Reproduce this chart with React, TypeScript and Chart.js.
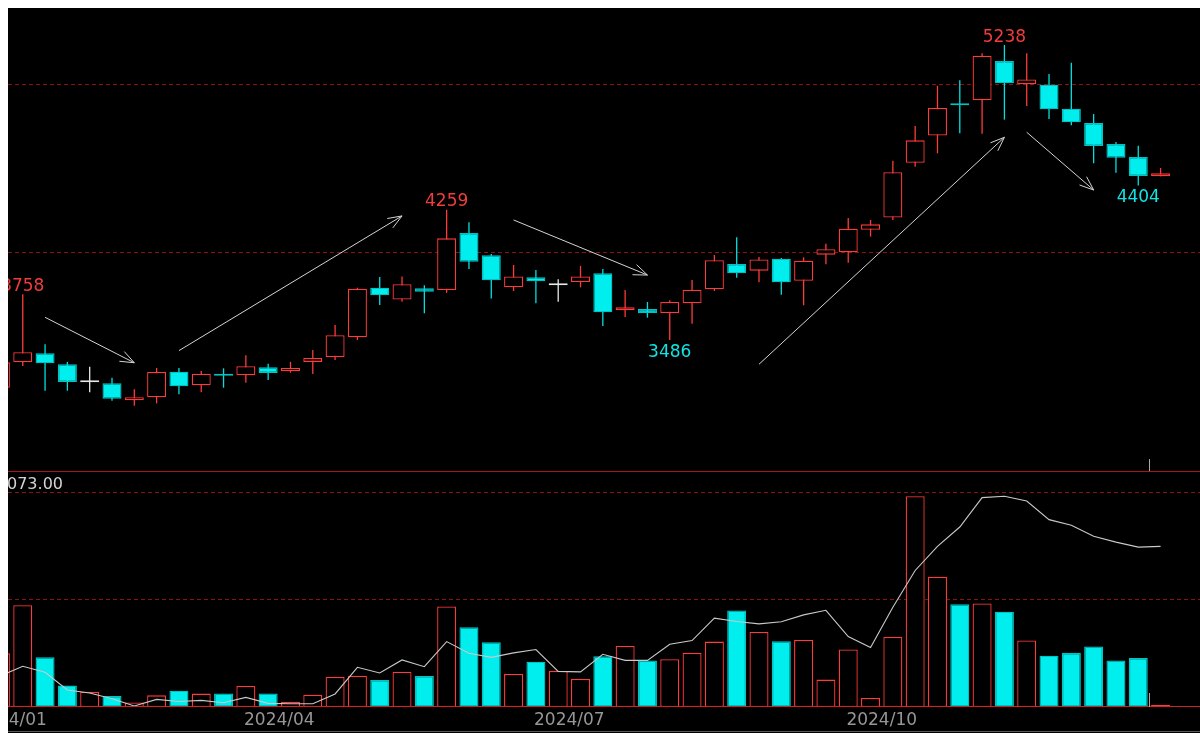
import React, { useEffect, useRef } from 'react';
import { Chart, registerables } from 'chart.js';

Chart.register(...registerables);

// ---------- data (weekly candles) ----------
const opens = [
  3203, 3354, 3407, 3342, 3235, 3229, 3128, 3146, 3298, 3217,
  3280, 3277, 3324, 3300, 3356, 3385, 3502, 3797, 3726, 3793,
  3783, 4122, 3989, 3799, 3859, 3811, 3831, 3882, 3663, 3670,
  3646, 3704, 3787, 3938, 3898, 3969, 3838, 3993, 4007, 4141,
  4213, 4539, 4700, 4888, 4910, 5143, 5005, 5002, 4860, 4775,
  4650, 4573, 4458,
];
const highs = [
  3370, 3758, 3461, 3356, 3328, 3262, 3193, 3320, 3320, 3302,
  3318, 3395, 3345, 3356, 3427, 3575, 3797, 3860, 3864, 3811,
  4259, 4185, 3997, 3932, 3902, 3847, 3926, 3908, 3783, 3712,
  3722, 3843, 3991, 4096, 3979, 3973, 3977, 4058, 4211, 4199,
  4551, 4757, 4996, 5029, 5189, 5238, 5189, 5066, 5133, 4828,
  4662, 4640, 4508,
];
const lows = [
  3190, 3332, 3185, 3185, 3176, 3126, 3096, 3110, 3164, 3176,
  3203, 3232, 3249, 3292, 3284, 3367, 3486, 3694, 3714, 3645,
  3767, 3908, 3732, 3777, 3704, 3714, 3799, 3569, 3623, 3619,
  3486, 3583, 3777, 3856, 3829, 3755, 3692, 3936, 3945, 4100,
  4199, 4515, 4595, 4714, 4711, 4795, 4876, 4799, 4761, 4536,
  4480, 4404, 4458,
];
const closes = [
  3354, 3413, 3348, 3237, 3235, 3138, 3146, 3296, 3211, 3286,
  3274, 3330, 3290, 3320, 3379, 3514, 3791, 3752, 3817, 3773,
  4090, 3951, 3841, 3864, 3835, 3811, 3864, 3651, 3680, 3646,
  3712, 3785, 3960, 3882, 3965, 3829, 3957, 4025, 4147, 4173,
  4482, 4672, 4864, 4881, 5175, 5011, 5034, 4856, 4779, 4638,
  4569, 4460, 4476,
];
const volumes = [
  50.2, 95.1, 46.4, 20.0, 14.3, 10.3, 4.3, 10.9, 15.3, 12.5,
  12.7, 19.7, 12.7, 5.0, 11.5, 28.1, 29.3, 25.3, 33.0, 29.0,
  93.9, 74.5, 60.5, 30.9, 42.4, 33.7, 26.2, 47.4, 57.1, 43.4,
  44.6, 50.6, 61.1, 90.2, 70.2, 61.4, 62.7, 25.6, 53.7, 8.4,
  65.5, 196.9, 121.7, 96.1, 96.7, 89.0, 62.1, 48.0, 50.6, 56.5,
  43.4, 45.9, 1.9,
];
const openInterest = [
  29.1, 38.0, 32.4, 15.9, 13.1, 7.8, 0.9, 7.1, 5.2, 6.2,
  4.0, 9.0, 3.4, 3.1, 3.1, 12.2, 37.1, 31.8, 44.0, 37.7,
  61.1, 50.2, 46.4, 50.6, 53.7, 33.3, 32.8, 49.3, 43.6, 43.6,
  58.6, 62.1, 83.0, 79.9, 77.7, 79.6, 86.1, 90.4, 65.8, 55.5,
  93.3, 127.6, 150.1, 168.2, 195.7, 196.9, 192.5, 175.1, 169.8, 159.5,
  154.1, 149.4, 150.1,
];
const monthLabels = ['2024/01', '2024/04', '2024/07', '2024/10'];
const monthStartIndex = [1, 13, 26, 40];
const priceGridValues = [4000, 5000];
const volumeGridValues = [100, 200];
const volumeHeaderText = '073.00';
const extremeMarks = [
  { index: 1, kind: 'high' },
  { index: 20, kind: 'high' },
  { index: 45, kind: 'high' },
  { index: 30, kind: 'low' },
  { index: 51, kind: 'low' },
];
// [fromIndex, fromPrice, toIndex, toPrice]
const trendArrows = [
  [2, 3621, 6, 3351],
  [8, 3423, 18, 4223],
  [23, 4199, 29, 3872],
  [34, 3342, 45, 4690],
  [46, 4720, 49, 4377],
];

// ---------- styles ----------
const RED = '#ff3a3a';
const CYAN = '#00eeee';
const CYAN_EDGE = '#00c4c4';
const DOJI = '#e8e8e8';
const GRID = '#8c1212';
const ARROW = '#d4d4d4';
const FONT = '"DejaVu Sans", Verdana, sans-serif';

const X_MIN = 0.3384;
const X_MAX = 53.767;

const idx = opens.map((_, i) => i);
const dirOf = (i: number) => (closes[i] > opens[i] ? 1 : closes[i] < opens[i] ? -1 : 0);

const candleDecor = {
  id: 'candleDecor',
  beforeDatasetsDraw(chart: any) {
    const { ctx, chartArea, scales } = chart;
    ctx.save();
    ctx.strokeStyle = GRID;
    ctx.lineWidth = 1;
    ctx.setLineDash([4, 3]);
    priceGridValues.forEach((v) => {
      const py = Math.round(scales.y.getPixelForValue(v)) - 0.5;
      ctx.beginPath();
      ctx.moveTo(chartArea.left, py);
      ctx.lineTo(chartArea.right, py);
      ctx.stroke();
    });
    ctx.restore();
  },
  afterDatasetsDraw(chart: any) {
    const { ctx, chartArea, scales } = chart;
    const xs = scales.x;
    const ys = scales.y;
    ctx.save();
    ctx.strokeStyle = ARROW;
    ctx.lineWidth = 1;
    trendArrows.forEach(([i1, p1, i2, p2]) => {
      const x1 = xs.getPixelForValue(i1);
      const y1 = ys.getPixelForValue(p1);
      const x2 = xs.getPixelForValue(i2);
      const y2 = ys.getPixelForValue(p2);
      ctx.beginPath();
      ctx.moveTo(x1, y1);
      ctx.lineTo(x2, y2);
      ctx.stroke();
      const ang = Math.atan2(y2 - y1, x2 - x1);
      [-1, 1].forEach((s) => {
        const a = ang + Math.PI + s * 0.37;
        ctx.beginPath();
        ctx.moveTo(x2, y2);
        ctx.lineTo(x2 + 15 * Math.cos(a), y2 + 15 * Math.sin(a));
        ctx.stroke();
      });
    });
    ctx.font = '17px ' + FONT;
    ctx.textAlign = 'center';
    ctx.textBaseline = 'alphabetic';
    extremeMarks.forEach((m) => {
      const px = xs.getPixelForValue(m.index);
      if (m.kind === 'high') {
        ctx.fillStyle = '#f23c3c';
        ctx.fillText(String(highs[m.index]), px, ys.getPixelForValue(highs[m.index]) - 3.5);
      } else {
        ctx.fillStyle = '#10e4e4';
        ctx.fillText(String(lows[m.index]), px, ys.getPixelForValue(lows[m.index]) + 17);
      }
    });
    const mx = Math.round(xs.getPixelForValue(idx.length - 1.5)) + 0.5;
    ctx.strokeStyle = '#a8a8a8';
    ctx.beginPath();
    ctx.moveTo(mx, chartArea.bottom - 12);
    ctx.lineTo(mx, chartArea.bottom);
    ctx.stroke();
    ctx.restore();
  },
};

const volumeDecor = {
  id: 'volumeDecor',
  beforeDatasetsDraw(chart: any) {
    const { ctx, chartArea, scales } = chart;
    ctx.save();
    ctx.strokeStyle = GRID;
    ctx.lineWidth = 1;
    ctx.setLineDash([4, 3]);
    volumeGridValues.forEach((v) => {
      const py = Math.round(scales.y.getPixelForValue(v)) - 0.5;
      ctx.beginPath();
      ctx.moveTo(chartArea.left, py);
      ctx.lineTo(chartArea.right, py);
      ctx.stroke();
    });
    ctx.restore();
  },
  afterDatasetsDraw(chart: any) {
    const { ctx, chartArea, scales, width } = chart;
    const xs = scales.x;
    ctx.save();
    ctx.lineWidth = 1;
    ctx.strokeStyle = '#a51818';
    ctx.beginPath();
    ctx.moveTo(0, 0.5);
    ctx.lineTo(width, 0.5);
    ctx.stroke();
    ctx.strokeStyle = '#d42222';
    ctx.beginPath();
    ctx.moveTo(0, chartArea.bottom - 0.5);
    ctx.lineTo(width, chartArea.bottom - 0.5);
    ctx.stroke();
    const mx = Math.round(xs.getPixelForValue(idx.length - 1.5)) + 0.5;
    ctx.strokeStyle = '#a8a8a8';
    ctx.beginPath();
    ctx.moveTo(mx, chartArea.bottom - 14);
    ctx.lineTo(mx, chartArea.bottom);
    ctx.stroke();
    ctx.font = '16px ' + FONT;
    ctx.fillStyle = '#d4d4d4';
    ctx.textAlign = 'left';
    ctx.textBaseline = 'alphabetic';
    ctx.fillText(volumeHeaderText, -1, 17.5);
    ctx.font = '17px ' + FONT;
    ctx.fillStyle = '#969696';
    ctx.textAlign = 'center';
    monthLabels.forEach((lab, k) => {
      ctx.fillText(lab, xs.getPixelForValue(monthStartIndex[k] - 0.5), chartArea.bottom + 18);
    });
    ctx.restore();
  },
};

export default function App() {
  const priceRef = useRef<HTMLCanvasElement>(null);
  const volRef = useRef<HTMLCanvasElement>(null);

  useEffect(() => {
    document.documentElement.style.overflow = 'hidden';
    const common: any = {
      responsive: false,
      animation: false,
      devicePixelRatio: 1,
      events: [],
      plugins: { legend: { display: false }, tooltip: { enabled: false }, title: { display: false } },
    };
    const xScale: any = { type: 'linear', min: X_MIN, max: X_MAX, display: false, offset: false, bounds: 'ticks' };

    const priceChart = new Chart(priceRef.current as HTMLCanvasElement, {
      type: 'bar',
      data: {
        datasets: [
          {
            label: 'body',
            data: idx.map((i) => ({ x: i, y: [opens[i], closes[i]] })) as any,
            backgroundColor: idx.map((i) => (dirOf(i) > 0 ? '#000000' : dirOf(i) < 0 ? CYAN : DOJI)),
            borderColor: idx.map((i) => (dirOf(i) > 0 ? RED : dirOf(i) < 0 ? CYAN_EDGE : DOJI)),
            borderWidth: 1.3,
            borderSkipped: false,
            barThickness: 19,
            minBarLength: 2,
            grouped: false,
            inflateAmount: 0,
            order: 1,
          } as any,
          {
            label: 'wick',
            data: idx.map((i) => ({ x: i, y: [lows[i], highs[i]] })) as any,
            backgroundColor: idx.map((i) => (dirOf(i) > 0 ? RED : dirOf(i) < 0 ? '#00e0e0' : DOJI)),
            borderWidth: 0,
            barThickness: 1.3,
            grouped: false,
            inflateAmount: 0,
            order: 2,
          } as any,
        ],
      },
      options: {
        ...common,
        layout: { padding: 0 },
        scales: {
          x: xScale,
          y: { type: 'linear', min: 2708.2, max: 5457.9, display: false },
        },
      },
      plugins: [candleDecor as any],
    });

    const volChart = new Chart(volRef.current as HTMLCanvasElement, {
      type: 'bar',
      data: {
        datasets: [
          {
            type: 'line',
            label: 'openInterest',
            data: idx.map((i) => ({ x: i, y: openInterest[i] })) as any,
            borderColor: '#c8c8c8',
            borderWidth: 1.1,
            pointRadius: 0,
            tension: 0,
            order: 0,
          } as any,
          {
            type: 'bar',
            label: 'volume',
            data: idx.map((i) => ({ x: i, y: volumes[i] })) as any,
            backgroundColor: idx.map((i) => (dirOf(i) >= 0 ? '#000000' : CYAN)),
            borderColor: idx.map((i) => (dirOf(i) >= 0 ? RED : CYAN_EDGE)),
            borderWidth: 1.3,
            borderSkipped: false,
            barThickness: 19,
            grouped: false,
            inflateAmount: 0,
            order: 1,
          } as any,
        ],
      },
      options: {
        ...common,
        layout: { padding: { left: 0, right: 0, top: 0, bottom: 24 } },
        scales: {
          x: { ...xScale },
          y: { type: 'linear', min: 0, max: 220.56, display: false },
        },
      },
      plugins: [volumeDecor as any],
    });

    return () => {
      priceChart.destroy();
      volChart.destroy();
    };
  }, []);

  return (
    <div
      style={{
        position: 'fixed',
        left: 8,
        top: 8,
        width: 1192,
        height: 725,
        background: '#000',
        overflow: 'hidden',
      }}
    >
      <canvas
        ref={priceRef}
        width={1192}
        height={463}
        style={{ position: 'absolute', left: 0, top: 0, width: 1192, height: 463, display: 'block' }}
      />
      <canvas
        ref={volRef}
        width={1192}
        height={260}
        style={{ position: 'absolute', left: 0, top: 463, width: 1192, height: 260, display: 'block' }}
      />
      <div style={{ position: 'absolute', left: 0, top: 723, width: 1192, height: 1, background: '#5a5a5a' }} />
    </div>
  );
}
